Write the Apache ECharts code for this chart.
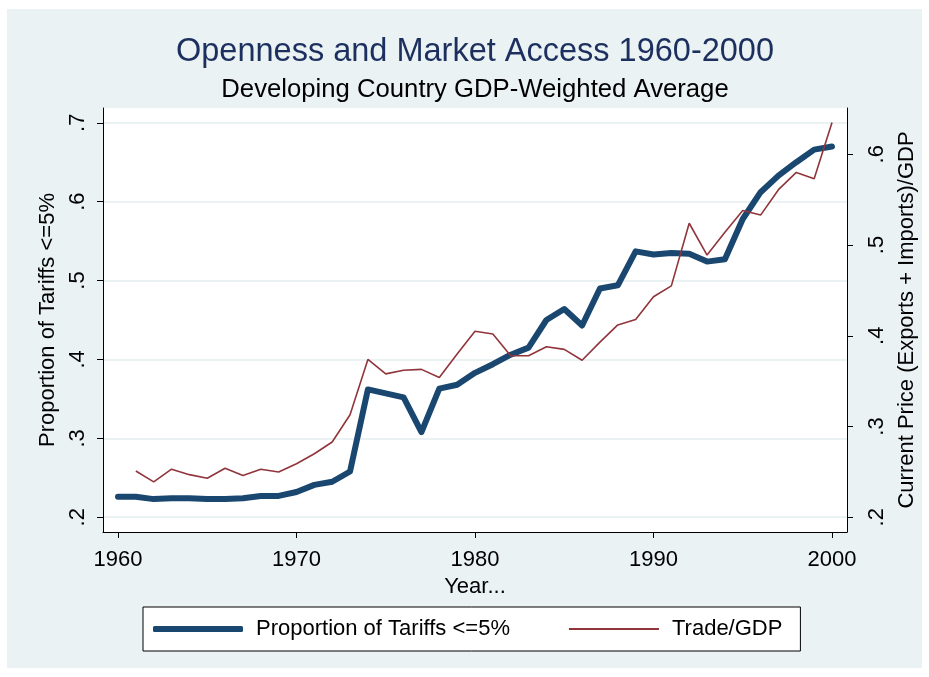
<!DOCTYPE html>
<html>
<head>
<meta charset="utf-8">
<script src="https://cdn.jsdelivr.net/npm/echarts@6/dist/echarts.min.js"></script>
<style>
  html, body { margin: 0; padding: 0; background: #fff; }
  #main { width: 929px; height: 677px; }
</style>
</head>
<body>
<div id="main"></div>
<script>
// data
var years = [1960, 1961, 1962, 1963, 1964, 1965, 1966, 1967, 1968, 1969,
             1970, 1971, 1972, 1973, 1974, 1975, 1976, 1977, 1978, 1979,
             1980, 1981, 1982, 1983, 1984, 1985, 1986, 1987, 1988, 1989,
             1990, 1991, 1992, 1993, 1994, 1995, 1996, 1997, 1998, 1999, 2000];
var tariffs = [.226, .226, .223, .224, .224, .223, .223, .224, .227, .227,
               .232, .241, .245, .258, .362, .357, .352, .308, .363, .368,
               .383, .394, .406, .415, .450, .464, .443, .490, .494, .537,
               .533, .535, .534, .524, .527, .578, .612, .633, .650, .666, .670];
var tradeGdp = [null, .251, .239, .253, .247, .243, .254, .246, .253, .250,
                .259, .270, .283, .313, .374, .358, .362, .363, .354, .380,
                .405, .402, .378, .378, .388, .385, .373, .393, .412, .418,
                .443, .455, .524, .489, .514, .538, .533, .561, .580, .573, .635];
var xTicks = [1960, 1970, 1980, 1990, 2000];
var leftTicks = [.2, .3, .4, .5, .6, .7];
var rightTicks = [.2, .3, .4, .5, .6];

var FONT = 'Liberation Sans, Arial, sans-serif';
var BLUE = '#1a476f';
var RED = '#90353b';

function pairs(vals) {
    return years.map(function (y, i) { return [y, vals[i]]; });
}
function dotFmt(v) {
    return v.toFixed(1).replace(/^0/, '');
}

var chart = echarts.init(document.getElementById('main'));

var option = {
    backgroundColor: '#ffffff',
    animation: false,
    textStyle: { fontFamily: FONT },
    graphic: [
        { type: 'rect', z: -10, shape: { x: 7, y: 9, width: 915, height: 659 },
          style: { fill: '#eaf2f3' } },
        { type: 'text', x: 475, y: 52,
          style: { text: 'Openness and Market Access 1960-2000', fontFamily: FONT,
                   fontSize: 32.5, fill: '#1c2f5e', textAlign: 'center', textVerticalAlign: 'middle' } },
        { type: 'text', x: 475, y: 90,
          style: { text: 'Developing Country GDP-Weighted Average', fontFamily: FONT,
                   fontSize: 25.7, fill: '#000', textAlign: 'center', textVerticalAlign: 'middle' } }
    ],
    grid: {
        left: 103, right: 82, top: 108, bottom: 145,
        show: true, backgroundColor: '#fff', borderWidth: 0
    },
    legend: {
        left: 143, top: 607,
        backgroundColor: '#fff',
        borderColor: '#000', borderWidth: 1,
        padding: [11, 18, 11, 10],
        itemGap: 59, itemWidth: 90, itemHeight: 6,
        textStyle: { fontSize: 22, color: '#000', fontFamily: FONT, padding: [0, 0, 0, 8] },
        data: [
            { name: 'Proportion of Tariffs <=5%', icon: 'roundRect', itemStyle: { color: BLUE } },
            { name: 'Trade/GDP', icon: 'path://M0,0H90V2H0Z', itemStyle: { color: RED } }
        ]
    },
    xAxis: {
        type: 'value',
        min: 1959.16, max: 2000.84,
        name: 'Year...',
        nameLocation: 'middle', nameGap: 42,
        nameTextStyle: { fontSize: 22, color: '#000' },
        axisLine: { lineStyle: { color: '#000', width: 1 } },
        axisTick: { length: 6, lineStyle: { color: '#000' }, customValues: xTicks },
        axisLabel: { fontSize: 22, color: '#000', margin: 17, customValues: xTicks,
                     formatter: function (v) { return String(v); } },
        splitLine: { show: false }
    },
    yAxis: [
        {
            type: 'value', position: 'left',
            min: 0.1813, max: 0.7187,
            name: 'Proportion of Tariffs <=5%',
            nameLocation: 'middle', nameGap: 32, nameRotate: 90,
            nameTextStyle: { fontSize: 22, color: '#000' },
            axisLine: { show: true, lineStyle: { color: '#000', width: 1 } },
            axisTick: { show: true, length: 6, lineStyle: { color: '#000' }, customValues: leftTicks },
            axisLabel: { fontSize: 22, color: '#000', rotate: 90, margin: 14,
                         customValues: leftTicks, formatter: dotFmt },
            splitLine: { show: true, lineStyle: { color: '#eaf2f3', width: 2 } }
        },
        {
            type: 'value', position: 'right',
            min: 0.1838, max: 0.651,
            name: 'Current Price (Exports + Imports)/GDP',
            nameLocation: 'middle', nameGap: 33, nameRotate: 90,
            nameTextStyle: { fontSize: 22, color: '#000' },
            axisLine: { show: true, lineStyle: { color: '#000', width: 1 } },
            axisTick: { show: true, length: 6, lineStyle: { color: '#000' }, customValues: rightTicks },
            axisLabel: { fontSize: 22, color: '#000', rotate: 90, margin: 19,
                         customValues: rightTicks, formatter: dotFmt },
            splitLine: { show: false }
        }
    ],
    series: [
        {
            name: 'Proportion of Tariffs <=5%',
            type: 'line', yAxisIndex: 0,
            symbol: 'none',
            lineStyle: { color: BLUE, width: 6, cap: 'round', join: 'round' },
            itemStyle: { color: BLUE },
            data: pairs(tariffs)
        },
        {
            name: 'Trade/GDP',
            type: 'line', yAxisIndex: 1,
            symbol: 'none',
            lineStyle: { color: RED, width: 1.6 },
            itemStyle: { color: RED },
            data: pairs(tradeGdp)
        }
    ]
};

chart.setOption(option);
</script>
</body>
</html>
